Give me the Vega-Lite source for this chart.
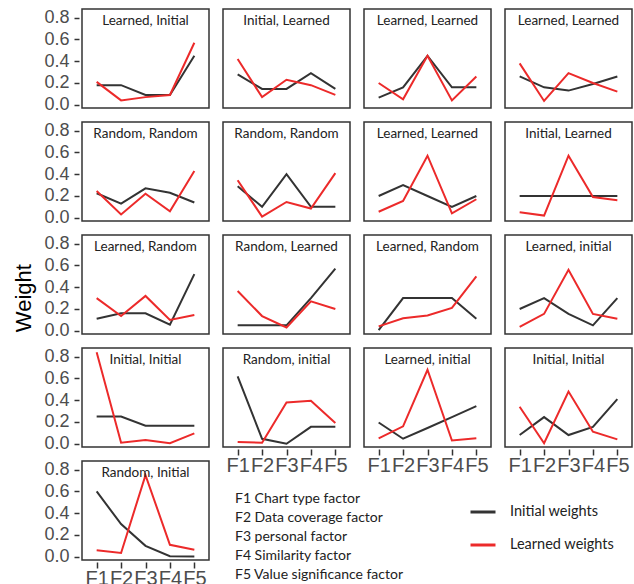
{
  "$schema": "https://vega.github.io/schema/vega-lite/v6.json",
  "padding": {"left": 12, "top": 8, "right": 5, "bottom": 2},
  "title": {"text": "Weight", "orient": "left", "anchor": "middle", "fontSize": 22, "font": "Liberation Sans", "fontWeight": "normal", "color": "#000", "offset": 8},
  "datasets": {
    "titles": [
      {"p": 1, "t": "Learned, Initial"}, {"p": 2, "t": "Initial, Learned"}, {"p": 3, "t": "Learned, Learned"}, {"p": 4, "t": "Learned, Learned"},
      {"p": 5, "t": "Random, Random"}, {"p": 6, "t": "Random, Random"}, {"p": 7, "t": "Learned, Learned"}, {"p": 8, "t": "Initial, Learned"},
      {"p": 9, "t": "Learned, Random"}, {"p": 10, "t": "Random, Learned"}, {"p": 11, "t": "Learned, Random"}, {"p": 12, "t": "Learned, initial"},
      {"p": 13, "t": "Initial, Initial"}, {"p": 14, "t": "Random, initial"}, {"p": 15, "t": "Learned, initial"}, {"p": 16, "t": "Initial, Initial"},
      {"p": 17, "t": "Random, Initial"}
    ]
  },
  "data": {"values": [
    {"p":1,"s":"Initial weights","f":"F1","w":0.18},{"p":1,"s":"Initial weights","f":"F2","w":0.18},{"p":1,"s":"Initial weights","f":"F3","w":0.09},{"p":1,"s":"Initial weights","f":"F4","w":0.09},{"p":1,"s":"Initial weights","f":"F5","w":0.45},
    {"p":2,"s":"Initial weights","f":"F1","w":0.28},{"p":2,"s":"Initial weights","f":"F2","w":0.145},{"p":2,"s":"Initial weights","f":"F3","w":0.145},{"p":2,"s":"Initial weights","f":"F4","w":0.29},{"p":2,"s":"Initial weights","f":"F5","w":0.145},
    {"p":3,"s":"Initial weights","f":"F1","w":0.065},{"p":3,"s":"Initial weights","f":"F2","w":0.16},{"p":3,"s":"Initial weights","f":"F3","w":0.45},{"p":3,"s":"Initial weights","f":"F4","w":0.16},{"p":3,"s":"Initial weights","f":"F5","w":0.16},
    {"p":4,"s":"Initial weights","f":"F1","w":0.26},{"p":4,"s":"Initial weights","f":"F2","w":0.16},{"p":4,"s":"Initial weights","f":"F3","w":0.13},{"p":4,"s":"Initial weights","f":"F4","w":0.19},{"p":4,"s":"Initial weights","f":"F5","w":0.26},
    {"p":5,"s":"Initial weights","f":"F1","w":0.225},{"p":5,"s":"Initial weights","f":"F2","w":0.13},{"p":5,"s":"Initial weights","f":"F3","w":0.27},{"p":5,"s":"Initial weights","f":"F4","w":0.23},{"p":5,"s":"Initial weights","f":"F5","w":0.14},
    {"p":6,"s":"Initial weights","f":"F1","w":0.29},{"p":6,"s":"Initial weights","f":"F2","w":0.1},{"p":6,"s":"Initial weights","f":"F3","w":0.4},{"p":6,"s":"Initial weights","f":"F4","w":0.1},{"p":6,"s":"Initial weights","f":"F5","w":0.1},
    {"p":7,"s":"Initial weights","f":"F1","w":0.2},{"p":7,"s":"Initial weights","f":"F2","w":0.3},{"p":7,"s":"Initial weights","f":"F3","w":0.2},{"p":7,"s":"Initial weights","f":"F4","w":0.1},{"p":7,"s":"Initial weights","f":"F5","w":0.2},
    {"p":8,"s":"Initial weights","f":"F1","w":0.2},{"p":8,"s":"Initial weights","f":"F2","w":0.2},{"p":8,"s":"Initial weights","f":"F3","w":0.2},{"p":8,"s":"Initial weights","f":"F4","w":0.2},{"p":8,"s":"Initial weights","f":"F5","w":0.2},
    {"p":9,"s":"Initial weights","f":"F1","w":0.11},{"p":9,"s":"Initial weights","f":"F2","w":0.16},{"p":9,"s":"Initial weights","f":"F3","w":0.16},{"p":9,"s":"Initial weights","f":"F4","w":0.055},{"p":9,"s":"Initial weights","f":"F5","w":0.52},
    {"p":10,"s":"Initial weights","f":"F1","w":0.05},{"p":10,"s":"Initial weights","f":"F2","w":0.05},{"p":10,"s":"Initial weights","f":"F3","w":0.05},{"p":10,"s":"Initial weights","f":"F4","w":0.3},{"p":10,"s":"Initial weights","f":"F5","w":0.57},
    {"p":11,"s":"Initial weights","f":"F1","w":0.005},{"p":11,"s":"Initial weights","f":"F2","w":0.3},{"p":11,"s":"Initial weights","f":"F3","w":0.3},{"p":11,"s":"Initial weights","f":"F4","w":0.3},{"p":11,"s":"Initial weights","f":"F5","w":0.11},
    {"p":12,"s":"Initial weights","f":"F1","w":0.2},{"p":12,"s":"Initial weights","f":"F2","w":0.3},{"p":12,"s":"Initial weights","f":"F3","w":0.155},{"p":12,"s":"Initial weights","f":"F4","w":0.05},{"p":12,"s":"Initial weights","f":"F5","w":0.3},
    {"p":13,"s":"Initial weights","f":"F1","w":0.25},{"p":13,"s":"Initial weights","f":"F2","w":0.25},{"p":13,"s":"Initial weights","f":"F3","w":0.165},{"p":13,"s":"Initial weights","f":"F4","w":0.165},{"p":13,"s":"Initial weights","f":"F5","w":0.165},
    {"p":14,"s":"Initial weights","f":"F1","w":0.62},{"p":14,"s":"Initial weights","f":"F2","w":0.045},{"p":14,"s":"Initial weights","f":"F3","w":0.0},{"p":14,"s":"Initial weights","f":"F4","w":0.155},{"p":14,"s":"Initial weights","f":"F5","w":0.155},
    {"p":15,"s":"Initial weights","f":"F1","w":0.195},{"p":15,"s":"Initial weights","f":"F2","w":0.046},{"p":15,"s":"Initial weights","f":"F3","w":0.145},{"p":15,"s":"Initial weights","f":"F4","w":0.245},{"p":15,"s":"Initial weights","f":"F5","w":0.345},
    {"p":16,"s":"Initial weights","f":"F1","w":0.08},{"p":16,"s":"Initial weights","f":"F2","w":0.245},{"p":16,"s":"Initial weights","f":"F3","w":0.08},{"p":16,"s":"Initial weights","f":"F4","w":0.155},{"p":16,"s":"Initial weights","f":"F5","w":0.41},
    {"p":17,"s":"Initial weights","f":"F1","w":0.6},{"p":17,"s":"Initial weights","f":"F2","w":0.3},{"p":17,"s":"Initial weights","f":"F3","w":0.1},{"p":17,"s":"Initial weights","f":"F4","w":0.005},{"p":17,"s":"Initial weights","f":"F5","w":0.003},
    {"p":1,"s":"Learned weights","f":"F1","w":0.21},{"p":1,"s":"Learned weights","f":"F2","w":0.04},{"p":1,"s":"Learned weights","f":"F3","w":0.07},{"p":1,"s":"Learned weights","f":"F4","w":0.09},{"p":1,"s":"Learned weights","f":"F5","w":0.57},
    {"p":2,"s":"Learned weights","f":"F1","w":0.42},{"p":2,"s":"Learned weights","f":"F2","w":0.07},{"p":2,"s":"Learned weights","f":"F3","w":0.23},{"p":2,"s":"Learned weights","f":"F4","w":0.18},{"p":2,"s":"Learned weights","f":"F5","w":0.09},
    {"p":3,"s":"Learned weights","f":"F1","w":0.2},{"p":3,"s":"Learned weights","f":"F2","w":0.05},{"p":3,"s":"Learned weights","f":"F3","w":0.45},{"p":3,"s":"Learned weights","f":"F4","w":0.04},{"p":3,"s":"Learned weights","f":"F5","w":0.26},
    {"p":4,"s":"Learned weights","f":"F1","w":0.38},{"p":4,"s":"Learned weights","f":"F2","w":0.035},{"p":4,"s":"Learned weights","f":"F3","w":0.29},{"p":4,"s":"Learned weights","f":"F4","w":0.2},{"p":4,"s":"Learned weights","f":"F5","w":0.12},
    {"p":5,"s":"Learned weights","f":"F1","w":0.245},{"p":5,"s":"Learned weights","f":"F2","w":0.03},{"p":5,"s":"Learned weights","f":"F3","w":0.22},{"p":5,"s":"Learned weights","f":"F4","w":0.06},{"p":5,"s":"Learned weights","f":"F5","w":0.43},
    {"p":6,"s":"Learned weights","f":"F1","w":0.345},{"p":6,"s":"Learned weights","f":"F2","w":0.01},{"p":6,"s":"Learned weights","f":"F3","w":0.145},{"p":6,"s":"Learned weights","f":"F4","w":0.085},{"p":6,"s":"Learned weights","f":"F5","w":0.41},
    {"p":7,"s":"Learned weights","f":"F1","w":0.055},{"p":7,"s":"Learned weights","f":"F2","w":0.155},{"p":7,"s":"Learned weights","f":"F3","w":0.57},{"p":7,"s":"Learned weights","f":"F4","w":0.04},{"p":7,"s":"Learned weights","f":"F5","w":0.17},
    {"p":8,"s":"Learned weights","f":"F1","w":0.05},{"p":8,"s":"Learned weights","f":"F2","w":0.02},{"p":8,"s":"Learned weights","f":"F3","w":0.57},{"p":8,"s":"Learned weights","f":"F4","w":0.19},{"p":8,"s":"Learned weights","f":"F5","w":0.16},
    {"p":9,"s":"Learned weights","f":"F1","w":0.3},{"p":9,"s":"Learned weights","f":"F2","w":0.135},{"p":9,"s":"Learned weights","f":"F3","w":0.32},{"p":9,"s":"Learned weights","f":"F4","w":0.1},{"p":9,"s":"Learned weights","f":"F5","w":0.145},
    {"p":10,"s":"Learned weights","f":"F1","w":0.365},{"p":10,"s":"Learned weights","f":"F2","w":0.135},{"p":10,"s":"Learned weights","f":"F3","w":0.03},{"p":10,"s":"Learned weights","f":"F4","w":0.27},{"p":10,"s":"Learned weights","f":"F5","w":0.2},
    {"p":11,"s":"Learned weights","f":"F1","w":0.04},{"p":11,"s":"Learned weights","f":"F2","w":0.115},{"p":11,"s":"Learned weights","f":"F3","w":0.14},{"p":11,"s":"Learned weights","f":"F4","w":0.21},{"p":11,"s":"Learned weights","f":"F5","w":0.5},
    {"p":12,"s":"Learned weights","f":"F1","w":0.035},{"p":12,"s":"Learned weights","f":"F2","w":0.155},{"p":12,"s":"Learned weights","f":"F3","w":0.56},{"p":12,"s":"Learned weights","f":"F4","w":0.155},{"p":12,"s":"Learned weights","f":"F5","w":0.11},
    {"p":13,"s":"Learned weights","f":"F1","w":0.84},{"p":13,"s":"Learned weights","f":"F2","w":0.01},{"p":13,"s":"Learned weights","f":"F3","w":0.035},{"p":13,"s":"Learned weights","f":"F4","w":0.005},{"p":13,"s":"Learned weights","f":"F5","w":0.095},
    {"p":14,"s":"Learned weights","f":"F1","w":0.015},{"p":14,"s":"Learned weights","f":"F2","w":0.01},{"p":14,"s":"Learned weights","f":"F3","w":0.38},{"p":14,"s":"Learned weights","f":"F4","w":0.395},{"p":14,"s":"Learned weights","f":"F5","w":0.19},
    {"p":15,"s":"Learned weights","f":"F1","w":0.05},{"p":15,"s":"Learned weights","f":"F2","w":0.16},{"p":15,"s":"Learned weights","f":"F3","w":0.68},{"p":15,"s":"Learned weights","f":"F4","w":0.03},{"p":15,"s":"Learned weights","f":"F5","w":0.05},
    {"p":16,"s":"Learned weights","f":"F1","w":0.34},{"p":16,"s":"Learned weights","f":"F2","w":0.005},{"p":16,"s":"Learned weights","f":"F3","w":0.48},{"p":16,"s":"Learned weights","f":"F4","w":0.11},{"p":16,"s":"Learned weights","f":"F5","w":0.04},
    {"p":17,"s":"Learned weights","f":"F1","w":0.06},{"p":17,"s":"Learned weights","f":"F2","w":0.035},{"p":17,"s":"Learned weights","f":"F3","w":0.75},{"p":17,"s":"Learned weights","f":"F4","w":0.11},{"p":17,"s":"Learned weights","f":"F5","w":0.065}
  ]},
  "transform": [{"lookup": "p", "from": {"data": {"name": "titles"}, "key": "p", "fields": ["t"]}}],
  "spacing": 12,
  "hconcat": [
    {
      "transform": [{"filter": "datum.p % 4 == 1"}],
      "facet": {"field": "p", "type": "ordinal", "sort": "ascending", "title": null, "header": {"title": null, "labels": false, "labelFontSize": 0, "labelPadding": 0}},
      "columns": 1,
      "spacing": {"row": 11, "column": 12},
      "spec": {
        "width": 127,
        "height": 99,
        "encoding": {
          "x": {"field": "f", "type": "ordinal", "scale": {"type": "point", "padding": 0.6},
                "axis": {"title": null, "labelAngle": 0, "labelOverlap": false, "labelFontSize": 20, "labelPadding": 0, "tickSize": 6}},
          "y": {"field": "w", "type": "quantitative", "scale": {"domain": [-0.03, 0.88], "nice": false, "zero": false},
                "axis": {"title": null, "values": [0, 0.2, 0.4, 0.6, 0.8], "format": ".1f", "labelFontSize": 18, "labelPadding": 5, "tickSize": 5, "offset": 2}}
        },
        "layer": [
          {"mark": {"type": "line", "strokeWidth": 2},
           "encoding": {"color": {"field": "s", "type": "nominal",
             "scale": {"domain": ["Initial weights", "Learned weights"], "range": ["#333333", "#ec2a2a"]},
             "legend": {"title": null, "orient": "none", "legendX": 387, "legendY": 489, "symbolType": "stroke", "symbolSize": 625, "symbolStrokeWidth": 3, "labelOffset": 13, "rowPadding": 12, "labelFont": "Lato", "labelFontSize": 14.5, "labelColor": "#222"}}}},
          {"mark": {"type": "point", "opacity": 0},
           "encoding": {"shape": {"field": "f", "type": "nominal",
             "legend": {"title": null, "orient": "none", "legendX": 139, "legendY": 483, "symbolSize": 0, "symbolOpacity": 0, "labelOffset": 0, "rowPadding": 5, "labelLimit": 300, "labelFont": "Lato", "labelFontSize": 14, "labelColor": "#222",
               "labelExpr": "{'F1': 'F1 Chart type factor', 'F2': 'F2 Data coverage factor', 'F3': 'F3 personal factor', 'F4': 'F4 Similarity factor', 'F5': 'F5 Value significance factor'}[datum.label]"}}}},
          {"transform": [{"filter": "datum.f == 'F3' && datum.s == 'Initial weights'"}],
           "mark": {"type": "text", "font": "Lato", "fontSize": 13.5, "color": "#222", "baseline": "middle"},
           "encoding": {"y": {"datum": 0.77, "type": "quantitative"}, "text": {"field": "t", "type": "nominal"}}}
        ]
      }
    },
    {
      "transform": [{"filter": "datum.p % 4 != 1"}],
      "facet": {"field": "p", "type": "ordinal", "sort": "ascending", "title": null, "header": {"title": null, "labels": false, "labelFontSize": 0, "labelPadding": 0}},
      "columns": 3,
      "spacing": {"row": 11, "column": 12},
      "spec": {
        "width": 127,
        "height": 99,
        "encoding": {
          "x": {"field": "f", "type": "ordinal", "scale": {"type": "point", "padding": 0.6},
                "axis": {"title": null, "labelAngle": 0, "labelOverlap": false, "labelFontSize": 20, "labelPadding": 0, "tickSize": 6}},
          "y": {"field": "w", "type": "quantitative", "scale": {"domain": [-0.03, 0.88], "nice": false, "zero": false}, "axis": null}
        },
        "layer": [
          {"mark": {"type": "line", "strokeWidth": 2},
           "encoding": {"color": {"field": "s", "type": "nominal",
             "scale": {"domain": ["Initial weights", "Learned weights"], "range": ["#333333", "#ec2a2a"]},
             "legend": {"title": null, "orient": "none", "legendX": 387, "legendY": 489, "symbolType": "stroke", "symbolSize": 625, "symbolStrokeWidth": 3, "labelOffset": 13, "rowPadding": 12, "labelFont": "Lato", "labelFontSize": 14.5, "labelColor": "#222"}}}},
          {"mark": {"type": "point", "opacity": 0},
           "encoding": {"shape": {"field": "f", "type": "nominal",
             "legend": {"title": null, "orient": "none", "legendX": 139, "legendY": 483, "symbolSize": 0, "symbolOpacity": 0, "labelOffset": 0, "rowPadding": 5, "labelLimit": 300, "labelFont": "Lato", "labelFontSize": 14, "labelColor": "#222",
               "labelExpr": "{'F1': 'F1 Chart type factor', 'F2': 'F2 Data coverage factor', 'F3': 'F3 personal factor', 'F4': 'F4 Similarity factor', 'F5': 'F5 Value significance factor'}[datum.label]"}}}},
          {"transform": [{"filter": "datum.f == 'F3' && datum.s == 'Initial weights'"}],
           "mark": {"type": "text", "font": "Lato", "fontSize": 13.5, "color": "#222", "baseline": "middle"},
           "encoding": {"y": {"datum": 0.77, "type": "quantitative"}, "text": {"field": "t", "type": "nominal"}}}
        ]
      }
    }
  ],
  "config": {
    "view": {"stroke": "#333333", "strokeWidth": 1.5},
    "header": {"labels": false, "title": null, "labelPadding": 0, "titlePadding": 0},
    "axis": {"grid": false, "domain": false, "tickColor": "#333333", "tickWidth": 1.5, "labelFont": "Liberation Sans", "labelColor": "#4d4d4d"}
  }
}
